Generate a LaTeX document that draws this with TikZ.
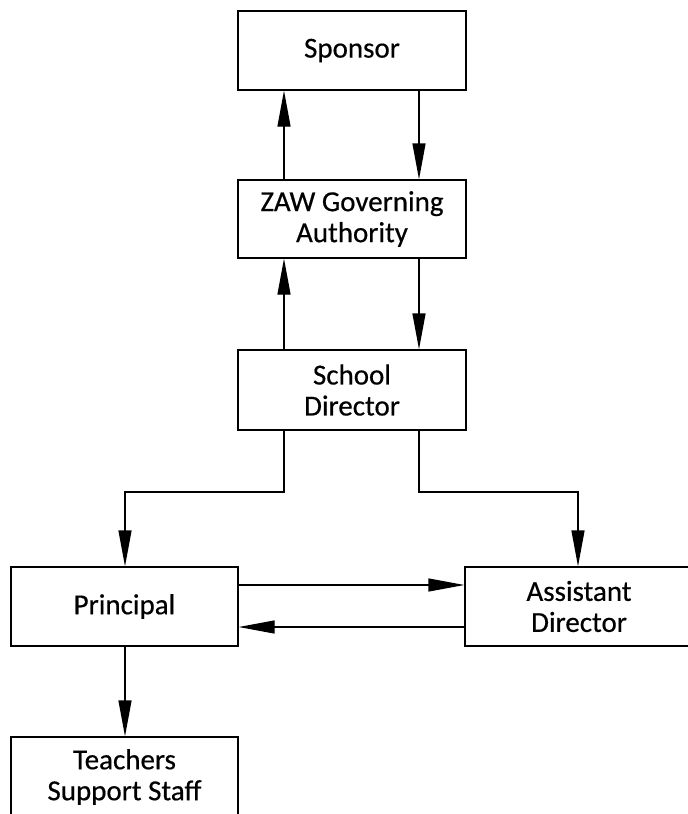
\documentclass[tikz,border=0pt]{standalone}
\usepackage{fontspec}
\setmainfont{Carlito}[FakeBold=0.5]
\usetikzlibrary{arrows.meta}
\begin{document}
\begin{tikzpicture}[x=1pt,y=-1pt,
  box/.style={draw=black,line width=1.3pt,fill=white,align=center,inner sep=0pt,
    minimum width=228pt,font=\fontsize{29}{31}\selectfont},
  arr/.style={draw=black,line width=1.3pt,-{Triangle[length=36pt,width=13pt]}}]
\useasboundingbox (0,0) rectangle (688,814);
\node[box,minimum height=79pt] (sponsor) at (352,50.5) {Sponsor};
\node[box,minimum height=78pt] (zaw) at (352,219) {ZAW Governing\\Authority};
\node[box,minimum height=80pt] (school) at (352,390) {School\\Director};
\node[box,minimum width=227pt,minimum height=79pt] (principal) at (124.5,606.5) {Principal};
\node[box,minimum height=79pt] (assist) at (579,606.5) {Assistant\\Director};
\node[box,minimum width=227pt,minimum height=80pt] (teachers) at (124.5,777) {Teachers\\Support Staff};
% vertical pairs
\draw[arr] ([xshift=-68pt]zaw.north) -- ([xshift=-68pt]sponsor.south);
\draw[arr] ([xshift=67pt]sponsor.south) -- ([xshift=67pt]zaw.north);
\draw[arr] ([xshift=-68pt]school.north) -- ([xshift=-68pt]zaw.south);
\draw[arr] ([xshift=67pt]zaw.south) -- ([xshift=67pt]school.north);
% branches
\coordinate (bl) at (284,492);
\coordinate (br) at (419,492);
\draw[arr] ([xshift=-68pt]school.south) -- (bl) -| ([xshift=0.5pt]principal.north);
\draw[arr] ([xshift=67pt]school.south) -- (br) -| ([xshift=-1pt]assist.north);
% horizontal pair
\draw[arr] ([yshift=21.5pt]principal.east) -- ([yshift=21.5pt]assist.west);
\draw[arr] ([yshift=-20.5pt]assist.west) -- ([yshift=-20.5pt]principal.east);
% to teachers
\draw[arr] ([xshift=0.5pt]principal.south) -- ([xshift=0.5pt]teachers.north);
\end{tikzpicture}
\end{document}
